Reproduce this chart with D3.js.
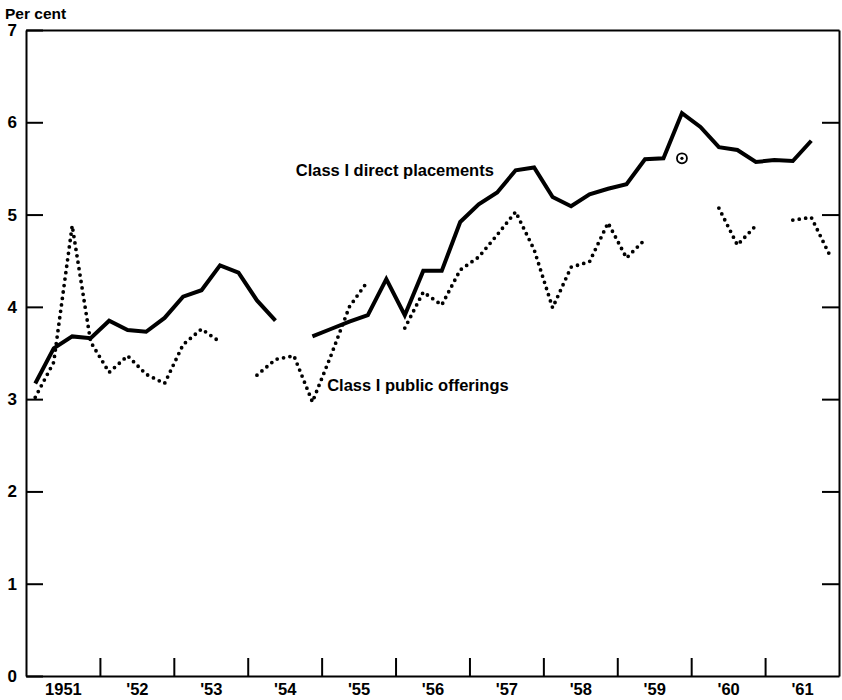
<!DOCTYPE html>
<html>
<head>
<meta charset="utf-8">
<script src="https://cdn.jsdelivr.net/npm/d3@7"></script>
<style>
  body { margin: 0; background: #fff; }
  svg { display: block; }
  text { font-family: "Liberation Sans", Arial, sans-serif; fill: #000; font-weight: bold; }
</style>
</head>
<body>
<svg id="chart" width="842" height="700"></svg>
<script>
// Quarterly observations, 1951 Q1 .. 1961 Q4 (null = no observation)
const years = ["1951", "'52", "'53", "'54", "'55", "'56", "'57", "'58", "'59", "'60", "'61"];
const yTicks = [0, 1, 2, 3, 4, 5, 6, 7];

const directPlacements = [
  3.17, 3.55, 3.68, 3.66,
  3.85, 3.75, 3.73, 3.88,
  4.11, 4.18, 4.45, 4.37,
  4.07, 3.85, null, 3.68,
  3.76, 3.84, 3.91, 4.30,
  3.91, 4.39, 4.39, 4.92,
  5.11, 5.24, 5.48, 5.51,
  5.19, 5.09, 5.22, 5.28,
  5.33, 5.60, 5.61, 6.10,
  5.95, 5.73, 5.70, 5.57,
  5.59, 5.58, 5.80, null
];

const publicOfferings = [
  3.02, 3.40, 4.88, 3.62,
  3.29, 3.47, 3.27, 3.17,
  3.59, 3.76, 3.62, null,
  3.26, 3.43, 3.47, 2.97,
  3.47, 4.00, 4.28, null,
  3.77, 4.16, 4.02, 4.40,
  4.54, 4.78, 5.03, 4.62,
  3.99, 4.43, 4.49, 4.91,
  4.53, 4.73, null, null,
  null, 5.07, 4.67, 4.88,
  null, 4.94, 4.97, 4.56
];

// isolated observation shown with a circled dot (quarter index, value)
const isolatedPoint = [{ q: 35, v: 5.61 }];

const seriesLabels = [
  { text: "Class I direct placements", q: 14.6, v: 5.42 },
  { text: "Class I public offerings", q: 16.3, v: 3.09 }
];

const svg = d3.select("#chart");
const L = 26, R = 839, T = 30, B = 676;

const x = d3.scaleLinear().domain([0, 44]).range([L, R]);
const y = d3.scaleLinear().domain([0, 7]).range([B, T]);

// frame / axes
const leftAxis = d3.axisLeft(y).tickValues(yTicks).tickSize(-17).tickSizeOuter(0).tickPadding(9).tickFormat(d3.format("d"));
const gL = svg.append("g").attr("transform", `translate(${L},0)`).call(leftAxis);
gL.selectAll("text").style("font-size", "17px").style("font-weight", "bold");

const rightAxis = d3.axisRight(y).tickValues(yTicks.slice(1, 7)).tickSize(-17).tickSizeOuter(0).tickFormat("");
svg.append("g").attr("transform", `translate(${R},0)`).call(rightAxis);

const bottomAxis = d3.axisBottom(x).tickValues(d3.range(4, 44, 4)).tickSize(-18).tickSizeOuter(0).tickFormat("");
svg.append("g").attr("transform", `translate(0,${B})`).call(bottomAxis);

const labelAxis = d3.axisBottom(x).tickValues(years.map((_, i) => i * 4 + 2)).tickSize(0).tickPadding(7)
  .tickFormat((d, i) => years[i]);
const gY = svg.append("g").attr("transform", `translate(0,${B})`).call(labelAxis);
gY.select(".domain").remove();
gY.selectAll("text").style("font-size", "16.5px").style("font-weight", "bold");

const topAxis = d3.axisTop(x).tickValues([]).tickSizeOuter(0);
svg.append("g").attr("transform", `translate(0,${T})`).call(topAxis);

svg.selectAll(".domain, .tick line").attr("stroke", "#000").attr("stroke-width", 2);

svg.append("text").attr("x", 5).attr("y", 19).style("font-size", "15.5px").text("Per cent");

// lines
const line = d3.line()
  .defined(d => d != null)
  .x((d, i) => x(i + 0.5))
  .y(d => y(d));

svg.append("path").datum(publicOfferings)
  .attr("fill", "none").attr("stroke", "#000")
  .attr("stroke-width", 3.8).attr("stroke-linecap", "round")
  .attr("stroke-dasharray", "0,6.5")
  .attr("d", line);

svg.append("path").datum(directPlacements)
  .attr("fill", "none").attr("stroke", "#000")
  .attr("stroke-width", 4).attr("stroke-linejoin", "miter").attr("stroke-linecap", "butt")
  .attr("d", line);

// isolated observation
const iso = svg.selectAll(".iso").data(isolatedPoint).enter().append("g");
iso.append("circle").attr("cx", d => x(d.q + 0.5)).attr("cy", d => y(d.v)).attr("r", 5)
  .attr("fill", "#fff").attr("stroke", "#000").attr("stroke-width", 1.8);
iso.append("circle").attr("cx", d => x(d.q + 0.5)).attr("cy", d => y(d.v)).attr("r", 1.6)
  .attr("fill", "#000");

// series labels
svg.selectAll(".slab").data(seriesLabels).enter().append("text")
  .attr("x", d => x(d.q)).attr("y", d => y(d.v))
  .style("font-size", "16.5px")
  .text(d => d.text);
</script>
</body>
</html>
